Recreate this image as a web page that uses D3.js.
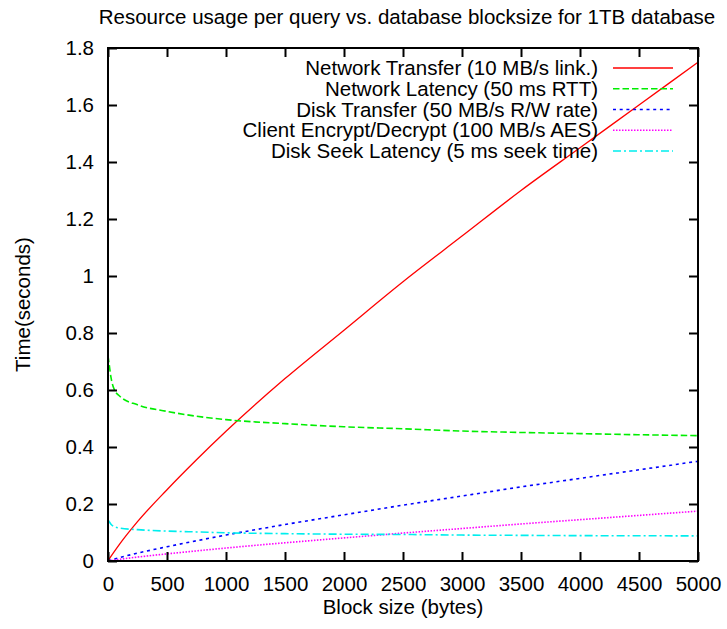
<!DOCTYPE html>
<html>
<head>
<meta charset="utf-8">
<script src="https://cdn.jsdelivr.net/npm/d3@7/dist/d3.min.js"></script>
<style>
  html, body { margin: 0; padding: 0; background: #fff; }
  svg text { font-family: "Liberation Sans", Arial, Helvetica, sans-serif; fill: #000; }
</style>
</head>
<body>
<svg id="chart" width="727" height="629"></svg>
<script>
// Block sizes (bytes) at which each cost was evaluated
const blockSizes = [0, 10, 25, 50, 100, 250, 500, 750, 1000, 1500, 2000, 2500, 3000, 3500, 4000, 4500, 5000];

// Seconds per query for each resource
const networkTransfer = [0, 0.0065, 0.016, 0.031, 0.06, 0.138, 0.25, 0.355, 0.455, 0.64, 0.81, 0.98, 1.14, 1.30, 1.45, 1.60, 1.75];
const networkLatency  = [0.72, 0.69, 0.645, 0.605, 0.578, 0.548, 0.525, 0.508, 0.496, 0.482, 0.471, 0.464, 0.456, 0.451, 0.447, 0.443, 0.44];
const diskTransfer    = [0, 0.0013, 0.0032, 0.0062, 0.012, 0.0276, 0.05, 0.071, 0.091, 0.128, 0.162, 0.196, 0.228, 0.26, 0.29, 0.32, 0.35];
const clientCrypto    = [0, 0.0007, 0.0016, 0.0031, 0.006, 0.0138, 0.025, 0.0355, 0.0455, 0.064, 0.081, 0.098, 0.114, 0.13, 0.145, 0.16, 0.175];
const diskSeek        = [0.144, 0.138, 0.129, 0.121, 0.1156, 0.11, 0.105, 0.102, 0.099, 0.096, 0.094, 0.093, 0.091, 0.090, 0.089, 0.0886, 0.088];

const seriesNames = [
  "Network Transfer (10 MB/s link.)",
  "Network Latency (50 ms RTT)",
  "Disk Transfer (50 MB/s R/W rate)",
  "Client Encrypt/Decrypt (100 MB/s AES)",
  "Disk Seek Latency (5 ms seek time)"
];
const seriesValues = [networkTransfer, networkLatency, diskTransfer, clientCrypto, diskSeek];

const xTicks = [0, 500, 1000, 1500, 2000, 2500, 3000, 3500, 4000, 4500, 5000];
const xTickLabels = ["0", "500", "1000", "1500", "2000", "2500", "3000", "3500", "4000", "4500", "5000"];
const yTicks = [0, 0.2, 0.4, 0.6, 0.8, 1.0, 1.2, 1.4, 1.6, 1.8];
const yTickLabels = ["0", "0.2", "0.4", "0.6", "0.8", "1", "1.2", "1.4", "1.6", "1.8"];

const titleText = "Resource usage per query vs. database blocksize for 1TB database";
const xLabelText = "Block size (bytes)";
const yLabelText = "Time(seconds)";

// Line styles (gnuplot-like defaults)
const colors = ["#ff0000", "#00ee00", "#0000ff", "#ff00ff", "#00eeee"];
const dashes = [null, "6.5,3", "3,3.7", "1.5,1.5", "8,3,2,3"];
const widths = [1.3, 1.6, 1.6, 1.6, 1.6];

const W = 727, H = 629;
const plot = { left: 108, right: 698, top: 48, bottom: 561 };
const FONT = 20.5;

const svg = d3.select("#chart");
svg.append("rect").attr("width", W).attr("height", H).attr("fill", "#fff");

const x = d3.scaleLinear().domain([0, 5000]).range([plot.left, plot.right]);
const y = d3.scaleLinear().domain([0, 1.8]).range([plot.bottom, plot.top]);

// Clip for curves
svg.append("clipPath").attr("id", "plotClip")
  .append("rect")
  .attr("x", plot.left).attr("y", plot.top)
  .attr("width", plot.right - plot.left).attr("height", plot.bottom - plot.top);

// Curves
const line = d3.line()
  .x(d => x(d[0]))
  .y(d => y(d[1]))
  .curve(d3.curveMonotoneX);

const curves = svg.append("g").attr("clip-path", "url(#plotClip)");
seriesValues.forEach((vals, i) => {
  const pts = blockSizes.map((b, j) => [b, vals[j]]);
  curves.append("path")
    .datum(pts)
    .attr("d", line)
    .attr("fill", "none")
    .attr("stroke", colors[i])
    .attr("stroke-width", widths[i])
    .attr("stroke-dasharray", dashes[i]);
});

// Axes with inward ticks on all four sides
function styleAxis(g) {
  g.select(".domain").remove();
  g.selectAll(".tick line").attr("stroke", "#000").attr("stroke-width", 2);
  g.selectAll(".tick text").attr("font-size", FONT).attr("font-family", null).attr("fill", "#000");
}

svg.append("g")
  .attr("transform", `translate(0,${plot.bottom})`)
  .call(d3.axisBottom(x).tickValues(xTicks).tickFormat((d, i) => xTickLabels[i])
    .tickSizeInner(-9).tickSizeOuter(0).tickPadding(15))
  .call(styleAxis);

svg.append("g")
  .attr("transform", `translate(0,${plot.top})`)
  .call(d3.axisTop(x).tickValues(xTicks).tickFormat("")
    .tickSizeInner(-9).tickSizeOuter(0))
  .call(styleAxis);

svg.append("g")
  .attr("transform", `translate(${plot.left},0)`)
  .call(d3.axisLeft(y).tickValues(yTicks).tickFormat((d, i) => yTickLabels[i])
    .tickSizeInner(-9).tickSizeOuter(0).tickPadding(14))
  .call(styleAxis);

svg.append("g")
  .attr("transform", `translate(${plot.right},0)`)
  .call(d3.axisRight(y).tickValues(yTicks).tickFormat("")
    .tickSizeInner(-9).tickSizeOuter(0))
  .call(styleAxis);

// Frame
svg.append("rect")
  .attr("x", plot.left).attr("y", plot.top)
  .attr("width", plot.right - plot.left).attr("height", plot.bottom - plot.top)
  .attr("fill", "none").attr("stroke", "#000").attr("stroke-width", 2);

// Key
const key = svg.append("g");
const keyTextRight = 598, keySampleX0 = 613, keySampleX1 = 673, keyY0 = 68, keyStep = 20.75;
seriesNames.forEach((name, i) => {
  const cy = keyY0 + i * keyStep;
  key.append("text")
    .attr("x", keyTextRight).attr("y", cy)
    .attr("dy", "0.35em")
    .attr("text-anchor", "end")
    .attr("font-size", FONT)
    .text(name);
  key.append("line")
    .attr("x1", keySampleX0).attr("x2", keySampleX1)
    .attr("y1", cy).attr("y2", cy)
    .attr("stroke", colors[i])
    .attr("stroke-width", widths[i])
    .attr("stroke-dasharray", dashes[i]);
});

// Title and axis labels
svg.append("text")
  .attr("x", 407).attr("y", 24)
  .attr("text-anchor", "middle")
  .attr("font-size", FONT)
  .text(titleText);

svg.append("text")
  .attr("x", (plot.left + plot.right) / 2).attr("y", 614)
  .attr("text-anchor", "middle")
  .attr("font-size", FONT)
  .text(xLabelText);

svg.append("text")
  .attr("transform", `translate(30,${(plot.top + plot.bottom) / 2}) rotate(-90)`)
  .attr("text-anchor", "middle")
  .attr("font-size", FONT)
  .text(yLabelText);
</script>
</body>
</html>
